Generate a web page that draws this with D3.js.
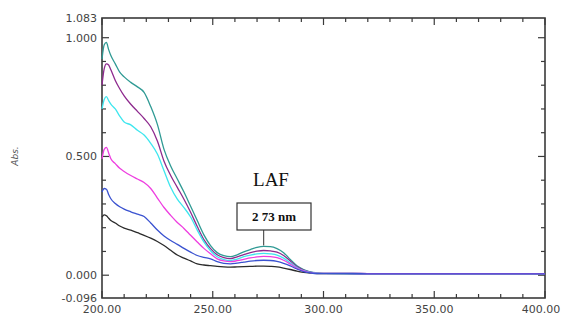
<!DOCTYPE html>
<html><head><meta charset="utf-8">
<script src="https://cdn.jsdelivr.net/npm/d3@7/dist/d3.min.js"></script>
<style>body{margin:0;background:#fff}svg{display:block}</style>
</head><body><svg id="c" width="561" height="320"></svg>
<script>
const wavelengths=[200,201,202,203,204,206,208,210,213,216,219,222,225,228,231,234,237,240,243,246,249,252,255,258,261,264,267,270,273,276,279,282,285,288,291,294,297,300,320,340,360,380,400];
const teal=[0.91,0.97,0.98,0.95,0.925,0.89,0.855,0.835,0.812,0.793,0.77,0.71,0.635,0.53,0.46,0.405,0.35,0.29,0.23,0.17,0.125,0.095,0.082,0.078,0.086,0.098,0.108,0.117,0.121,0.12,0.112,0.095,0.066,0.04,0.024,0.014,0.01,0.008,0.007,0.007,0.007,0.007,0.007];
const purple=[0.80,0.87,0.89,0.885,0.865,0.82,0.785,0.755,0.72,0.69,0.66,0.625,0.565,0.48,0.42,0.37,0.32,0.265,0.205,0.15,0.112,0.086,0.074,0.07,0.077,0.087,0.095,0.101,0.104,0.102,0.097,0.083,0.06,0.036,0.021,0.013,0.009,0.008,0.007,0.007,0.007,0.007,0.007];
const cyan=[0.70,0.74,0.752,0.735,0.72,0.70,0.67,0.645,0.633,0.61,0.59,0.555,0.51,0.44,0.37,0.32,0.285,0.245,0.19,0.14,0.103,0.078,0.066,0.062,0.068,0.078,0.085,0.09,0.092,0.09,0.085,0.072,0.052,0.032,0.019,0.012,0.009,0.008,0.007,0.007,0.007,0.007,0.007];
const magenta=[0.49,0.53,0.538,0.515,0.49,0.47,0.45,0.437,0.42,0.405,0.39,0.365,0.325,0.285,0.252,0.222,0.197,0.168,0.14,0.113,0.09,0.069,0.06,0.057,0.061,0.067,0.073,0.077,0.079,0.078,0.074,0.063,0.047,0.029,0.018,0.011,0.008,0.008,0.007,0.007,0.007,0.007,0.007];
const blue=[0.35,0.365,0.362,0.34,0.322,0.302,0.288,0.278,0.267,0.257,0.247,0.22,0.19,0.165,0.146,0.13,0.113,0.097,0.083,0.075,0.069,0.057,0.05,0.048,0.051,0.055,0.059,0.062,0.063,0.062,0.058,0.05,0.039,0.026,0.015,0.01,0.007,0.007,0.006,0.006,0.006,0.006,0.006];
const black=[0.245,0.254,0.25,0.24,0.23,0.22,0.207,0.198,0.19,0.179,0.168,0.156,0.142,0.125,0.105,0.085,0.072,0.06,0.048,0.043,0.04,0.037,0.035,0.034,0.035,0.036,0.037,0.038,0.038,0.037,0.035,0.03,0.024,0.017,0.012,0.009,0.007,0.007,0.007,0.007,0.007,0.007,0.007];
const seriesNames=["black","teal","purple","cyan","magenta","blue"];
const seriesData={black,teal,purple,cyan,magenta,blue};
const seriesColors={black:"#2b2b2b",teal:"#2f9a94",purple:"#8e2a8e",cyan:"#3ee6ee",magenta:"#ee3ee0",blue:"#3a52d0"};
const xMajorTicks=[200,250,300,350,400];
const yLabelTicks=[-0.096,0,0.5,1.0,1.083];
const yLabelText=["-0.096","0.000","0.500","1.000","1.083"];
const title="LAF", annotation="2 73 nm", annotationNm=273;

const svg=d3.select("#c");
const W=561;
const L=102,R=545,T=18,B=298;
const x=d3.scaleLinear().domain([200,400]).range([L,R]);
const y=d3.scaleLinear().domain([-0.096,1.083]).range([B,T]);
const axisColor="#3a3a3a";
const font="DejaVu Sans, Verdana, sans-serif";

// frame
svg.append("rect").attr("x",L).attr("y",T).attr("width",R-L).attr("height",B-T)
  .attr("fill","none").attr("stroke",axisColor).attr("stroke-width",1.6);

// ticks
const xMinor=d3.range(200,401,10);
const yMinor=d3.range(0,1.01,0.1);
const g=svg.append("g").attr("stroke",axisColor).attr("stroke-width",1.2);
xMinor.forEach(v=>{
  const major=xMajorTicks.includes(v);const len=major?7:4;
  g.append("line").attr("x1",x(v)).attr("x2",x(v)).attr("y1",B).attr("y2",B-len);
  g.append("line").attr("x1",x(v)).attr("x2",x(v)).attr("y1",T).attr("y2",T+len);
});
yMinor.forEach(v=>{
  const vv=Math.round(v*10)/10;const major=(vv===0||vv===0.5||vv===1);const len=major?7:4;
  g.append("line").attr("x1",L).attr("x2",L+len).attr("y1",y(vv)).attr("y2",y(vv));
  g.append("line").attr("x1",R).attr("x2",R-len).attr("y1",y(vv)).attr("y2",y(vv));
});

// tick labels
svg.append("g").selectAll("text").data(xMajorTicks).join("text")
  .attr("x",d=>Math.min(x(d),W-20)).attr("y",B+15).attr("text-anchor","middle")
  .attr("font-family",font).attr("font-size",11).attr("fill","#444")
  .text(d=>d.toFixed(2));
svg.append("g").selectAll("text").data(yLabelTicks).join("text")
  .attr("x",L-5).attr("y",d=>y(d)+4).attr("text-anchor","end")
  .attr("font-family",font).attr("font-size",11).attr("fill","#444")
  .text((d,i)=>yLabelText[i]);

// axis titles
svg.append("text").attr("transform","translate(18,156) rotate(-90)").attr("text-anchor","middle")
  .attr("font-family",font).attr("font-size",9).attr("font-style","italic").attr("fill","#555").text("Abs.");
svg.append("text").attr("x",x(300)).attr("y",326).attr("text-anchor","middle")
  .attr("font-family",font).attr("font-size",11).attr("fill","#444").text("nm");

// curves
const line=d3.line().x((d,i)=>x(wavelengths[i])).y(d=>y(d)).curve(d3.curveMonotoneX);
const plot=svg.append("g");
seriesNames.forEach(n=>{
  plot.append("path").attr("d",line(seriesData[n])).attr("fill","none")
    .attr("stroke",seriesColors[n]).attr("stroke-width",1.3);
});

// title
svg.append("text").attr("x",271).attr("y",186).attr("text-anchor","middle")
  .attr("font-family","Liberation Serif, Times New Roman, serif").attr("font-size",19).attr("fill","#111").text(title);

// annotation box
const ax=x(annotationNm);
const peakY=y(teal[wavelengths.indexOf(annotationNm)]);
svg.append("line").attr("x1",ax).attr("x2",ax).attr("y1",230).attr("y2",peakY-1)
  .attr("stroke","#333").attr("stroke-width",1);
svg.append("rect").attr("x",237).attr("y",203).attr("width",74).attr("height",27)
  .attr("fill","#fff").attr("stroke","#333").attr("stroke-width",1.2);
svg.append("text").attr("x",274).attr("y",221).attr("text-anchor","middle")
  .attr("font-family","Liberation Serif, Times New Roman, serif").attr("font-size",13).attr("font-weight","bold").attr("fill","#111").text(annotation);
</script></body></html>
